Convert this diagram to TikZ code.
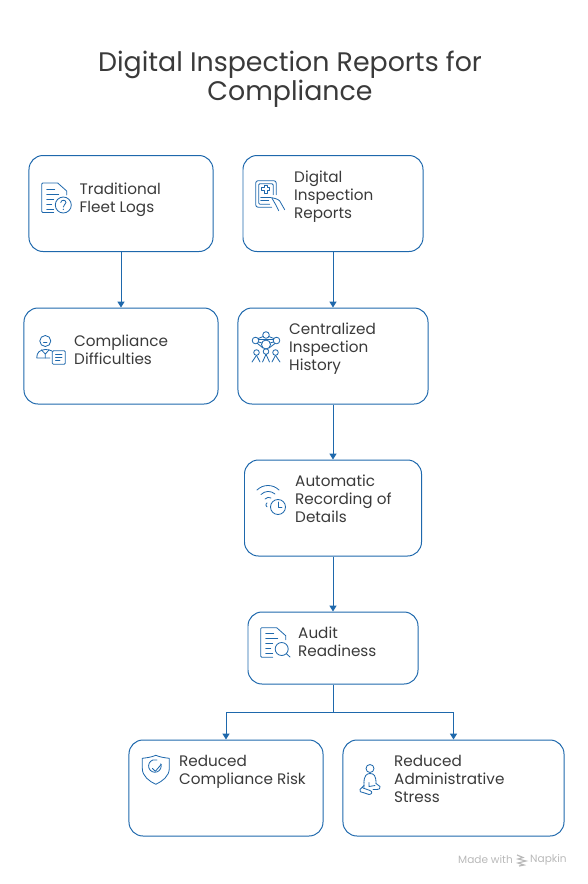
\documentclass[tikz,border=0pt]{standalone}
\usepackage{fontspec}
\setmainfont{Poppins}
\usepackage{tikz}
\usetikzlibrary{arrows.meta,positioning}
\definecolor{azulNap}{RGB}{30,104,172}
\definecolor{grisTexto}{RGB}{58,58,58}
\definecolor{grisMarca}{RGB}{185,185,185}
\tikzset{
  iconline/.style = {draw=azulNap, line width=0.7pt, line cap=round, line join=round, fill=none},
  pics/docbody/.style = {code={
    \draw[iconline] (12,29.5) -- (1,29.5) -- (0,28.5) -- (0,1) -- (1,0) -- (16,0) -- (25,8) -- (25,12);
    \draw[iconline] (5,6) -- (13,6) (5,11) -- (17,11) (5,16) -- (12,16) (5,21) -- (10,21) (5,26) -- (12,26);
  }},
  pics/tablet/.style = {code={
    \draw[iconline,rounded corners=2pt] (16,26.5) -- (0,26.5) -- (0,0) -- (20.5,0) -- (20.5,14);
    \draw[iconline,rounded corners=1pt] (14,23.5) -- (3,23.5) -- (3,3) -- (17.5,3) -- (17.5,14);
    \draw[iconline] (8.5,4.5) -- (11.5,4.5) -- (11.5,7) -- (14,7) -- (14,10) -- (11.5,10)
      -- (11.5,12.5) -- (8.5,12.5) -- (8.5,10) -- (6,10) -- (6,7) -- (8.5,7) -- cycle;
    \draw[iconline] (5,16.5) -- (15,16.5) (5,19.5) -- (13,19.5);
    \draw[iconline] (16,17) .. controls (21,18) and (24,19) .. (25,22) -- (29,29);
    \draw[iconline] (16,17) -- (20,24) -- (23,30);
  }},
  pics/netpeople/.style = {code={
    \foreach \cx/\cy/\rr in {15/0/3.3, 4.5/5.5/3.3, 25.5/5.5/3.3, 15/9.5/4.5, 5.5/17.5/2.8, 24.5/17.5/2.8, 15/16.5/2.8}
      \draw[iconline] (\cx,\cy) circle[radius=\rr];
    \draw[iconline] (7,3.5) -- (12.3,1.5) (17.7,1.5) -- (23,3.5) (7.5,7) -- (11,8) (22.5,7) -- (19,8)
      (6.5,8.5) -- (12,13) (24,8.5) -- (18,13) (7.5,4.5) -- (22.5,4.5);
    \foreach \lx/\ly/\mx in {5.5/20.3/1, 5.5/20.3/9, 15/19.3/11.5, 15/19.3/18.5, 24.5/20.3/21, 24.5/20.3/29}
      \draw[iconline] (\lx,\ly) -- (\mx,27);
  }},
  pics/wificlock/.style = {code={
    \draw[iconline] (0,5) .. controls (6,-1) and (16,-1) .. (22,5);
    \draw[iconline] (4,9.5) .. controls (8,5.5) and (14,5.5) .. (18,9);
    \draw[iconline] (8,14) .. controls (10,12) and (12,12) .. (14,13);
    \draw[iconline] (10,18) arc[start angle=240,end angle=120,radius=2.2];
    \draw[iconline,fill=white] (21,22) circle[radius=7.5];
    \draw[iconline] (21,17) -- (21,22.5) -- (25,22.5);
  }},
  pics/shield/.style = {code={
    \draw[iconline] (13.5,0) .. controls (18,2) and (23,2.5) .. (27,3)
      -- (27,13) .. controls (27,21) and (20,26) .. (13.5,29)
      .. controls (7,26) and (0,21) .. (0,13) -- (0,3) .. controls (4,2.5) and (9,2) .. (13.5,0);
    \draw[iconline] (18.5,8.5) arc[start angle=-20,end angle=290,radius=6.3];
    \draw[iconline] (10,13) -- (13,16) -- (19,9);
  }},
  pics/calmperson/.style = {code={
    \draw[iconline] (10,4) circle[radius=4];
    \draw[iconline] (4,18) .. controls (4,11) and (7,9) .. (10,9) .. controls (14,9) and (16,11) .. (16,19);
    \draw[iconline] (4,18) -- (4,23) (9,18) -- (9,22) -- (15,21);
    \draw[iconline] (4,21) -- (0,25) .. controls (-1,27) and (1,28) .. (3,28)
      -- (9,30) .. controls (12,30) and (13,27) .. (10,26) -- (3,23.5);
    \draw[iconline] (16,19) -- (20,22) .. controls (21,24) and (19,25) .. (16,25) -- (13,25);
  }},
}
\begin{document}
\begin{tikzpicture}[
  x=0.03cm, y=-0.03cm,
  card/.style  = {rectangle, rounded corners=0.42cm, draw=azulNap, line width=0.85pt,
                  minimum height=2.88cm, inner sep=0pt},
  label/.style = {anchor=north west, inner sep=0pt, align=left, text=grisTexto,
                  font=\fontsize{13}{15.4}\selectfont},
  link/.style  = {-{Triangle[length=5pt,width=6pt]}, draw=azulNap, line width=0.85pt},
]
\useasboundingbox (0,0) rectangle (588,884);
% title
\node[anchor=center, inner sep=0pt, align=center, text=grisTexto,
      font=\fontsize{22.9}{24.8}\selectfont] (title) at (290,79) {Digital Inspection Reports for\\Compliance};

% cards
\node[card, minimum width=5.52cm] (fleet)  at (121,203.5) {};
\node[card, minimum width=5.82cm] (diffic) at (121,356) {};
\node[card, minimum width=5.40cm] (digi)   at (333,203.5) {};
\node[card, minimum width=5.70cm] (hist)   at (333,356) {};
\node[card, minimum width=5.31cm] (auto)   at (333,508) {};
\node[card, minimum width=5.10cm, minimum height=2.16cm] (audit) at (333,648) {};
\node[card, minimum width=5.82cm] (risk)   at (226,788) {};
\node[card, minimum width=6.63cm] (stress) at (453.5,788) {};

% labels
\node[label] (fleetT)  at (79.5,183) {Traditional\\Fleet Logs};
\node[label] (difficT) at (74,335) {Compliance\\Difficulties};
\node[label] (digiT)   at (294,171) {Digital\\Inspection\\Reports};
\node[label] (histT)   at (289,323) {Centralized\\Inspection\\History};
\node[label] (autoT)   at (295,475) {Automatic\\Recording of\\Details};
\node[label] (auditT)  at (298,627) {Audit\\Readiness};
\node[label] (riskT)   at (179,755) {Reduced\\Compliance Risk};
\node[label] (stressT) at (394,755) {Reduced\\Administrative\\Stress};

% links
\draw[link] (fleet) -- (diffic);
\draw[link] (digi)  -- (hist);
\draw[link] (hist)  -- (auto);
\draw[link] (auto)  -- (audit);
\coordinate (split) at (333,712);
\draw[draw=azulNap, line width=0.85pt] (audit) -- (split);
\draw[link] (split) -| (risk);
\draw[link] (split) -| (stress);

% icons
\pic at (41.7,183) {docbody};
\draw[iconline] (63.3,205) circle[radius=8];
\draw[iconline] (60.8,202.5) .. controls (61,199.5) and (66,199.5) .. (66,202.5) .. controls (66,204.5) and (63.3,204.5) .. (63.3,207);
\fill[azulNap] (63.3,209.3) circle[radius=0.7];

\draw[iconline] (45.3,341) circle[radius=5.5];
\draw[iconline] (43.5,342.5) -- (47,342.5);
\draw[iconline] (36.7,358) -- (50,358) (36.7,358) .. controls (36.7,352) and (40,350) .. (45.3,349.5) .. controls (48,349.5) and (50,350) .. (52,351);
\draw[iconline] (41.5,350) -- (45.3,354) -- (49,350) (45.3,354) -- (45.3,358);
\draw[iconline,rounded corners=1pt] (52.3,350.7) rectangle (65.3,364.3);
\draw[iconline] (55.5,354.5) -- (62,354.5) (55.5,357.5) -- (62,357.5) (55.5,360.5) -- (60,360.5);

\pic at (255.7,180.7) {tablet};
\pic at (251,335) {netpeople};
\pic at (257,485) {wificlock};
\pic at (260.7,627.7) {docbody};
\draw[iconline] (281.7,649) circle[radius=6.5];
\draw[iconline] (286.3,653.6) -- (290,657);
\pic at (142.3,755.3) {shield};
\pic at (360,764.5) {calmperson};

% footer
\node[anchor=west, inner sep=0pt, text=grisMarca, font=\fontsize{9}{10}\selectfont] (made) at (458,860) {Made with};
\node[anchor=west, inner sep=0pt, text=grisMarca, font=\fontsize{9}{10}\selectfont] (napkin) at (530,860) {Napkin};
\draw[draw=grisMarca, line width=1pt] (517,855) -- (523,857.5) -- (518,859) -- (526,861) -- (518,863) -- (524,865) -- (519,866);
\end{tikzpicture}
\end{document}
